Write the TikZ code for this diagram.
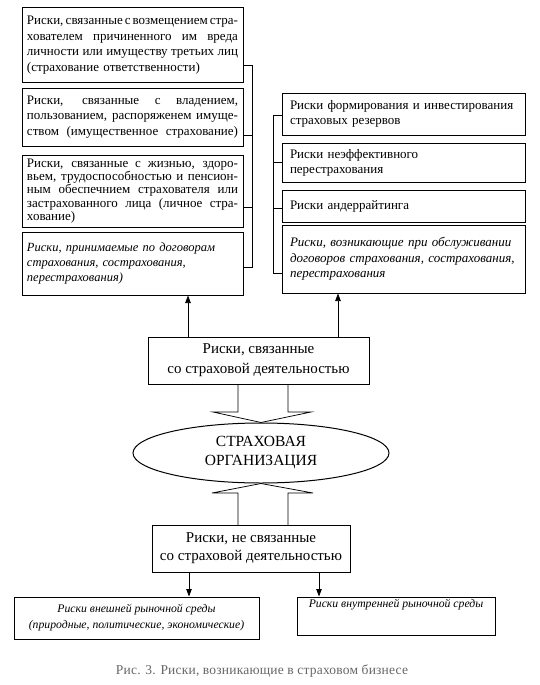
\documentclass[tikz,border=0pt]{standalone}
\usepackage{fontspec}
\setmainfont{Liberation Serif}
\usetikzlibrary{arrows.meta,shapes.geometric}
\newlength\jw \setlength\jw{211pt}
\newcommand\jl[1]{\makebox[\jw][s]{\spaceskip=0.25em plus 1em minus 0.12em\relax #1}}
\begin{document}
\begin{tikzpicture}[x=1pt,y=-1pt,
  box/.style={draw,line width=1pt,inner sep=0pt,align=left},
  lbox/.style={box,minimum width=221pt,text width=211pt,font=\fontsize{13}{15.5}\selectfont},
  rbox/.style={box,minimum width=243pt,text width=227pt,font=\fontsize{13}{15}\selectfont},
  arr/.style={line width=0.75pt,-{Triangle[length=7.5pt,width=5.5pt]}},
  thin/.style={line width=0.75pt}
]
\useasboundingbox (0,0) rectangle (540,685);

% left column
\node[lbox,minimum height=74pt] (L1) at (132.5,45) {%
\jl{Риски, связанные с возмещением стра-}\\
\jl{хователем причиненного им вреда}\\
\jl{личности или имуществу третьих лиц}\\
(страхование ответственности)};
\node[lbox,minimum height=58pt] (L2) at (132.5,117) {%
\jl{Риски, связанные с владением,}\\
\jl{пользованием, распоряженем имуще-}\\
\jl{ством (имущественное страхование)}};
\node[lbox,minimum height=72pt,font=\fontsize{13}{13.4}\selectfont] (L3) at (132.5,191) {%
\jl{Риски, связанные с жизнью, здоро-}\\
\jl{вьем, трудоспособностью и пенсион-}\\
\jl{ным обеспечнием страхователя или}\\
\jl{застрахованного лица (личное стра-}\\
хование)};
\node[lbox,minimum height=63pt,font=\fontsize{12.5}{15}\selectfont\itshape] (L4) at (132.5,263.5) {%
Риски, принимаемые по договорам\\
страхования, сострахования,\\
перестрахования)};

% right column
\node[rbox,minimum height=42pt] (R1) at (403.5,114) {%
Риски формирования и инвестирования\\
страховых резервов};
\node[rbox,minimum height=39pt] (R2) at (403.5,162.5) {%
Риски неэффективного\\
перестрахования};
\node[rbox,minimum height=32pt] (R3) at (403.5,206) {%
Риски андеррайтинга};
\node[rbox,minimum height=68pt,font=\fontsize{13}{15.5}\selectfont\itshape] (R4) at (403.5,259) {%
Риски, возникающие при обслуживании\\
договоров страхования, сострахования,\\
перестрахования\\[4pt]};

% brackets (left)
\coordinate (l1) at ([yshift=-20pt]L1.east);
\coordinate (l2) at ([yshift=-18pt]L2.east);
\coordinate (l3) at ([yshift=-16pt]L3.east);
\coordinate (l4) at ([yshift=-3.5pt]L4.east);
\draw[thin] (l1) -- ++(9,0) coordinate (l1e) -- (l1e |- l4) -- (l4);
\draw[thin] (l2) -- (l1e |- l2);
\draw[thin] (l3) -- (l1e |- l3);
% brackets (right)
\coordinate (r1) at ([yshift=-1pt]R1.west);
\coordinate (r2) at (R2.west);
\coordinate (r3) at ([yshift=-2pt]R3.west);
\coordinate (r4) at ([yshift=-14pt]R4.west);
\draw[thin] (r1) -- ++(-8,0) coordinate (r1e) -- (r1e |- r4) -- (r4);
\draw[thin] (r2) -- (r1e |- r2);
\draw[thin] (r3) -- (r1e |- r3);

% middle
\node[box,minimum width=221pt,minimum height=47pt,align=center,
      font=\fontsize{15}{20}\selectfont] (M) at (258.5,360.5) {%
Риски, связанные\\со страховой деятельностью};
\coordinate (ma) at ([xshift=-70.5pt]M.north);
\coordinate (mb) at ([xshift=79.5pt]M.north);
\draw[arr] (ma) -- (ma |- L4.south);
\draw[arr] (mb) -- (mb |- R4.south);

\node[ellipse,draw,line width=1pt,minimum width=256pt,minimum height=60pt,inner sep=0pt,
      align=center,font=\fontsize{15.5}{19}\selectfont] (E) at (261,453) {%
СТРАХОВАЯ\\ОРГАНИЗАЦИЯ};

\draw[thin,line join=miter] (238,384) -- (238,412) -- (213,412) -- (E.north)
  -- (311,412) -- (288,412) -- (288,384);

\node[box,minimum width=198pt,minimum height=47pt,align=center,
      font=\fontsize{15}{18}\selectfont] (N) at (251,548.5) {%
Риски, не связанные\\со страховой деятельностью};

\draw[thin,line join=miter] (238,525) -- (238,493) -- (212,493) -- (E.south)
  -- (313,493) -- (288,493) -- (288,525);

% bottom boxes
\node[box,minimum width=245pt,minimum height=42pt,align=center,
      font=\fontsize{11.7}{16}\selectfont\itshape] (BL) at (136.5,618) {%
Риски внешней рыночной среды\\(природные, политические, экономические)};
\node[box,minimum width=198pt,minimum height=38pt,align=center,
      font=\fontsize{11.7}{16}\selectfont\itshape] (BR) at (396,616) {%
Риски внутренней рыночной среды\\[10pt]};
\coordinate (na) at ([xshift=-62pt]N.south);
\coordinate (nb) at ([xshift=68pt]N.south);
\draw[arr] (na) -- (na |- BL.north);
\draw[arr] (nb) -- (nb |- BR.north);

\node[text=black!60,font=\fontsize{13.5}{16}\selectfont\addfontfeatures{LetterSpace=1.5}] (cap) at (262,671)
  {Рис. 3. Риски, возникающие в страховом бизнесе};
\end{tikzpicture}
\end{document}
